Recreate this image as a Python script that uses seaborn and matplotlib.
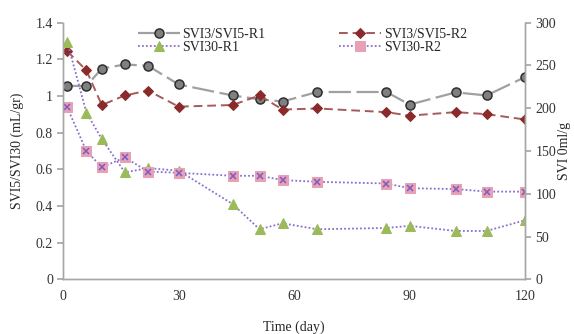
import matplotlib
matplotlib.use("Agg")
import matplotlib.pyplot as plt
import seaborn as sns
import pandas as pd

# Sampling days
days = [1, 6, 10, 16, 22, 30, 44, 51, 57, 66, 84, 90, 102, 110, 120]

# SVI3/SVI5 ratios (left axis)
ratio_r1 = [1.055, 1.055, 1.150, 1.172, 1.165, 1.063, 1.003, 0.982, 0.970,
            1.022, 1.022, 0.953, 1.020, 1.003, 1.103]
ratio_r2 = [1.245, 1.140, 0.951, 1.003, 1.030, 0.942, 0.951, 1.003, 0.926,
            0.932, 0.912, 0.893, 0.912, 0.901, 0.872]

# SVI30 values, ml/g (right axis)
svi30_r1 = [278, 195, 164, 125, 130, 127, 88, 58.5, 65.5,
            58.5, 60, 62.5, 56.5, 56.5, 69]
svi30_r2 = [201, 150, 131, 142.5, 126, 124.5, 121, 121, 116,
            114, 112, 106.5, 105.5, 102.5, 102.5]

x_ticks = [0, 30, 60, 90, 120]
left_ticks = [0, 0.2, 0.4, 0.6, 0.8, 1.0, 1.2, 1.4]
left_tick_labels = ["0", "0.2", "0.4", "0.6", "0.8", "1", "1.2", "1.4"]
right_ticks = [0, 50, 100, 150, 200, 250, 300]

sns.set_theme(style="white")
plt.rcParams["font.family"] = ["Liberation Serif", "DejaVu Serif"]
plt.rcParams["font.size"] = 10

df_left = pd.DataFrame({"day": days, "SVI3/SVI5-R1": ratio_r1, "SVI3/SVI5-R2": ratio_r2})
df_right = pd.DataFrame({"day": days, "SVI30-R1": svi30_r1, "SVI30-R2": svi30_r2})

fig = plt.figure(figsize=(5.74, 3.34), dpi=100)
ax = fig.add_axes([0.1103, 0.1638, 0.8043, 0.7682])
ax2 = ax.twinx()

purple = "#8A6FD0"

sns.lineplot(data=df_left, x="day", y="SVI3/SVI5-R1", ax=ax, color="#A0A0A0",
             lw=1.6, marker="o", markersize=6.5, markerfacecolor="#808080",
             markeredgecolor="#2F2F2F", markeredgewidth=1.1,
             label="SVI3/SVI5-R1", legend=False)
ax.lines[-1].set_dashes((10, 2.5))
sns.lineplot(data=df_left, x="day", y="SVI3/SVI5-R2", ax=ax, color="#A65A5A",
             lw=1.4, marker="D", markersize=4.8, markerfacecolor="#8B2A2A",
             markeredgecolor="#8B2A2A", label="SVI3/SVI5-R2", legend=False)
ax.lines[-1].set_dashes((4.5, 2.5))
sns.lineplot(data=df_right, x="day", y="SVI30-R1", ax=ax2, color=purple,
             lw=1.3, marker="^", markersize=7, markerfacecolor="#9BBB59",
             markeredgecolor="#9BBB59", label="SVI30-R1", legend=False)
ax2.lines[-1].set_dashes((1, 1.2))
sns.lineplot(data=df_right, x="day", y="SVI30-R2", ax=ax2, color=purple,
             lw=1.3, marker="s", markersize=6.5, markerfacecolor="#E8A0B4",
             markeredgecolor="#E8A0B4", label="SVI30-R2", legend=False)
ax2.lines[-1].set_dashes((1, 1.2))
# purple cross drawn over the square markers
ax2.plot(days, svi30_r2, linestyle="none", marker="x", markersize=5,
         color="#7A5CC0", markeredgewidth=1.1)

ax.set_xlim(0, 120)
ax.set_ylim(0, 1.4)
ax2.set_ylim(0, 300)
ax.set_xticks(x_ticks)
ax.set_yticks(left_ticks)
ax.set_yticklabels(left_tick_labels)
ax2.set_yticks(right_ticks)

ax.set_xlabel("Time (day)", fontsize=10, labelpad=12)
ax.set_ylabel("SVI5/SVI30 (mL/gr)", fontsize=10, labelpad=8)
ax2.set_ylabel("SVI 0ml/g", fontsize=10)
ax2.yaxis.set_label_coords(1.072, 0.5)

spine_col = "#A6A6A6"
for a in (ax, ax2):
    a.spines["top"].set_visible(False)
    for s in ("left", "bottom", "right"):
        a.spines[s].set_color(spine_col)
        a.spines[s].set_linewidth(1.0)
    a.tick_params(colors="#333333", labelsize=10)
ax.tick_params(axis="y", which="major", direction="out", length=4, color=spine_col, left=True)
ax.tick_params(axis="x", which="major", direction="out", length=0, pad=8)
ax2.tick_params(axis="y", direction="out", length=4, color=spine_col, right=True)

h1, l1 = ax.get_legend_handles_labels()
h2, l2 = ax2.get_legend_handles_labels()
handles = [h1[0], h2[0], h1[1], h2[1]]
labels = [l1[0], l2[0], l1[1], l2[1]]
ax.legend(handles, labels, ncol=2, loc="upper left", bbox_to_anchor=(0.15, 1.0),
          frameon=False, fontsize=10, handlelength=3.0, handletextpad=0.2,
          columnspacing=5.3, labelspacing=0.0, borderaxespad=0)

fig.savefig("out.png", dpi=100)
